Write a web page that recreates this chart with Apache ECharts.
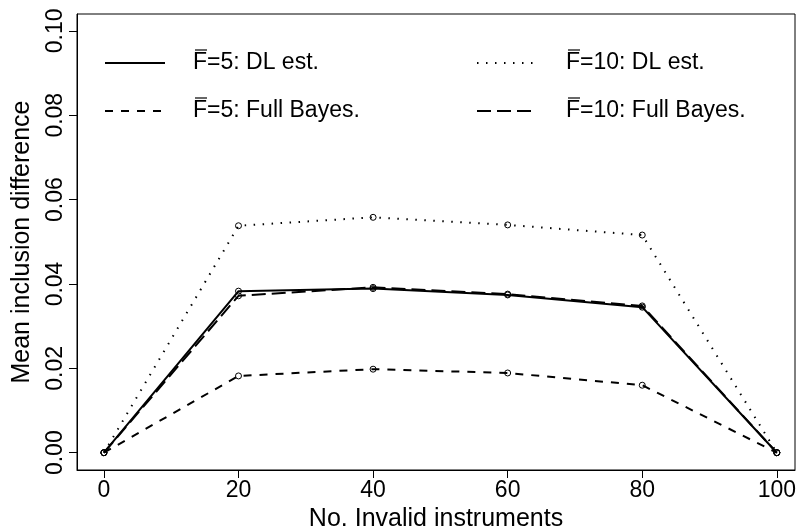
<!DOCTYPE html>
<html>
<head>
<meta charset="utf-8">
<script src="https://cdn.jsdelivr.net/npm/echarts@6/dist/echarts.min.js"></script>
<style>
html, body { margin: 0; padding: 0; background: #fff; }
#chart { width: 802px; height: 531px; }
</style>
</head>
<body>
<div id="chart"></div>
<script>
// number of invalid instruments
const invalid = [0, 20, 40, 60, 80, 100];
const xTicks = [0, 20, 40, 60, 80, 100];
const yTicks = [0, 0.02, 0.04, 0.06, 0.08, 0.10];

// mean inclusion difference
const f5DL = [0, 0.0383, 0.0389, 0.0374, 0.0345, 0];
const f10DL = [0, 0.0538, 0.0558, 0.0540, 0.0516, 0];
const f5Bayes = [0, 0.0182, 0.0198, 0.0189, 0.0160, 0];
const f10Bayes = [0, 0.0372, 0.0392, 0.0376, 0.0348, 0];

const FONT = 'Liberation Sans';

function pairs(ys) {
    return invalid.map((x, i) => [x, ys[i]]);
}

function makeSeries(name, ys, dash) {
    return {
        name: name,
        type: 'line',
        data: pairs(ys),
        symbol: 'circle',
        symbolSize: 6,
        showSymbol: true,
        itemStyle: { color: 'rgba(0,0,0,0)', borderColor: '#000', borderWidth: 1 },
        lineStyle: { color: '#000', width: 2, type: dash, cap: 'butt' },
        emphasis: { disabled: true },
        animation: false
    };
}

const chart = echarts.init(document.getElementById('chart'));

// hand-drawn legend (R style, two columns)
const legendRows = [
    { x1: 105, x2: 165, tx: 193, y: 63, dash: null, label: 'F=5: DL est.' },
    { x1: 105, x2: 165, tx: 193, y: 111, dash: [8, 8], label: 'F=5: Full Bayes.' },
    { x1: 477, x2: 534, tx: 566, y: 63, dash: [1.5, 7.5], label: 'F=10: DL est.' },
    { x1: 477, x2: 534, tx: 566, y: 111, dash: [14, 6], label: 'F=10: Full Bayes.' }
];
const graphic = [];
legendRows.forEach(r => {
    graphic.push({
        type: 'line',
        shape: { x1: r.x1, y1: r.y, x2: r.x2, y2: r.y },
        style: { stroke: '#000', lineWidth: 2, lineDash: r.dash || 'solid' }
    });
    graphic.push({
        type: 'text',
        x: r.tx, y: r.y,
        style: { text: r.label, font: '23px ' + FONT, fill: '#000', verticalAlign: 'middle', align: 'left' }
    });
    // bar over the F
    graphic.push({
        type: 'line',
        shape: { x1: r.tx + 2, y1: r.y - 13, x2: r.tx + 14, y2: r.y - 13 },
        style: { stroke: '#000', lineWidth: 1.2 }
    });
});

const option = {
    backgroundColor: '#fff',
    animation: false,
    grid: {
        left: 77, right: 7, top: 14, bottom: 61,
        outerBoundsMode: 'none',
        containLabel: false,
        show: true, borderColor: '#000', borderWidth: 1
    },
    xAxis: {
        type: 'value',
        min: -4, max: 102.7,
        name: 'No. Invalid instruments',
        nameLocation: 'middle',
        nameGap: 35,
        nameTextStyle: { fontFamily: FONT, fontSize: 25, color: '#000' },
        axisLine: { show: true, onZero: false, lineStyle: { color: '#000', width: 1 } },
        axisTick: { show: true, length: 8, customValues: xTicks, lineStyle: { color: '#000' } },
        axisLabel: { customValues: xTicks, margin: 9, fontFamily: FONT, fontSize: 23, color: '#000' },
        splitLine: { show: false }
    },
    yAxis: {
        type: 'value',
        min: -0.0041, max: 0.104,
        name: 'Mean inclusion difference',
        nameLocation: 'middle',
        nameGap: 42,
        nameTextStyle: { fontFamily: FONT, fontSize: 25, color: '#000' },
        axisLine: { show: true, onZero: false, lineStyle: { color: '#000', width: 1 } },
        axisTick: { show: true, length: 8, customValues: yTicks, lineStyle: { color: '#000' } },
        axisLabel: {
            customValues: yTicks, rotate: 90, margin: 10,
            fontFamily: FONT, fontSize: 23, color: '#000',
            formatter: v => v.toFixed(2)
        },
        splitLine: { show: false }
    },
    graphic: graphic,
    series: [
        makeSeries('F=5: DL est.', f5DL, 'solid'),
        makeSeries('F=10: DL est.', f10DL, [1.5, 7.5]),
        makeSeries('F=5: Full Bayes.', f5Bayes, [8, 8]),
        makeSeries('F=10: Full Bayes.', f10Bayes, [14, 6])
    ]
};
chart.setOption(option);
</script>
</body>
</html>
